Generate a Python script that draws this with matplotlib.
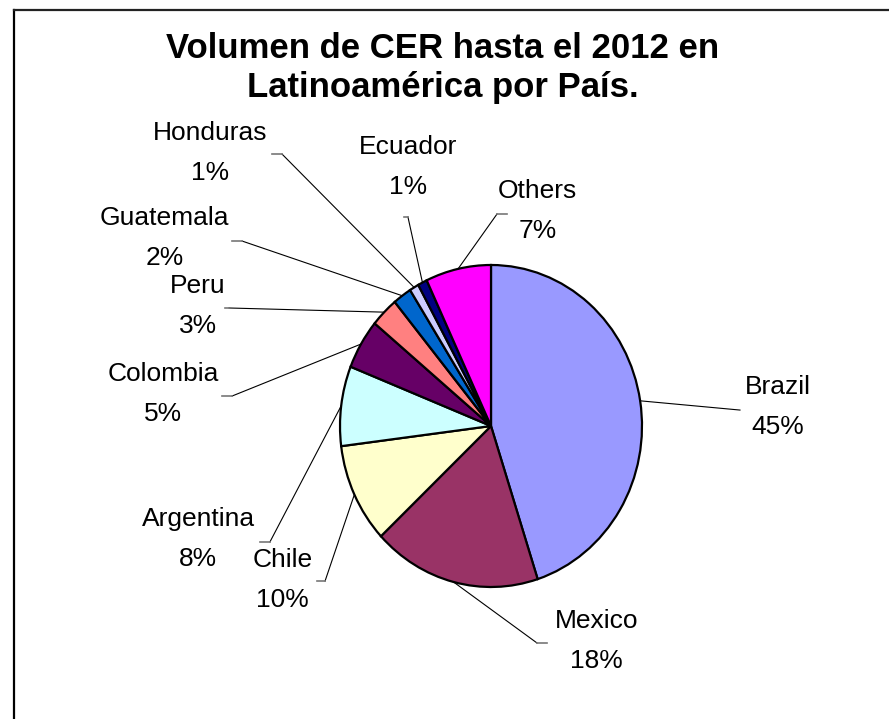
import matplotlib

matplotlib.use("Agg")
import matplotlib.pyplot as plt
from matplotlib.lines import Line2D
import numpy as np

# data
countries = ["Brazil", "Mexico", "Chile", "Argentina", "Colombia",
             "Peru", "Guatemala", "Honduras", "Ecuador", "Others"]
shares = [45, 18, 10, 8, 5, 3, 2, 1, 1, 7]
colors = ["#9999FF", "#993366", "#FFFFCC", "#CCFFFF", "#660066",
          "#FF8080", "#0066CC", "#CCCCFF", "#000080", "#FF00FF"]

# label layout, in pie-radius units (x, y of the name line centre)
label_pos = [(1.90, 0.24), (0.70, -1.21), (-1.38, -0.83), (-1.94, -0.58),
             (-2.17, 0.32), (-1.94, 0.87), (-2.16, 1.29), (-1.86, 1.82),
             (-0.55, 1.73), (0.31, 1.46)]
# leader line elbow and end of the short horizontal tail
elbow = [(1.649, 0.099), (0.305, -1.348), (-1.099, -0.963), (-1.464, -0.720),
         (-1.715, 0.186), (-1.735, 0.733), (-1.649, 1.149), (-1.384, 1.689),
         (-0.550, 1.298), (0.040, 1.317)]
tail = [(1.649, 0.099), (0.371, -1.348), (-1.152, -0.963), (-1.530, -0.720),
        (-1.781, 0.186), (-1.760, 0.733), (-1.715, 1.149), (-1.450, 1.689),
        (-0.575, 1.298), (0.106, 1.317)]

W, H = 889, 719
plt.rcParams["font.family"] = ["Liberation Sans", "DejaVu Sans"]
fig = plt.figure(figsize=(W / 100, H / 100), dpi=100)

# chart frame (left and top edges only visible)
fx, fy = 14 / W, 1 - 9.5 / H
fig.add_artist(Line2D([fx, fx], [0, fy], color="black", lw=1.6,
                      transform=fig.transFigure))
fig.add_artist(Line2D([fx, 1], [fy, fy], color="#222222", lw=1.6,
                      transform=fig.transFigure))

fig.text(443 / W, 1 - 57.5 / H, "Volumen de CER hasta el 2012 en",
         ha="center", va="baseline", fontsize=25, fontweight="bold")
fig.text(443 / W, 1 - 97 / H, "Latinoamérica por País.",
         ha="center", va="baseline", fontsize=25, fontweight="bold")

cx, cy, rx, ry = 491, 426, 151, 161
ax = fig.add_axes([(cx - rx) / W, (H - cy - ry) / H, 2 * rx / W, 2 * ry / H])
wedges, _ = ax.pie(shares, colors=colors, startangle=90, counterclock=False,
                   wedgeprops=dict(edgecolor="black", linewidth=1.6))
ax.set_aspect("auto")
ax.set_xlim(-1, 1)
ax.set_ylim(-1, 1)
ax.axis("off")

line_gap = 40 / ry
for w, name, pct, (lx, ly), (ex, ey), (tx, ty) in zip(
        wedges, countries, shares, label_pos, elbow, tail):
    ang = np.deg2rad((w.theta1 + w.theta2) / 2)
    sx, sy = np.cos(ang), np.sin(ang)
    ax.plot([sx, ex], [sy, ey], color="black", lw=0.8, clip_on=False)
    ax.plot([ex, tx], [ey, ty], color="#777777", lw=1.2, clip_on=False)
    ax.text(lx, ly, name, ha="center", va="center", fontsize=19)
    ax.text(lx, ly - line_gap, f"{pct}%", ha="center", va="center",
            fontsize=19)

fig.savefig("out.png", dpi=100)
